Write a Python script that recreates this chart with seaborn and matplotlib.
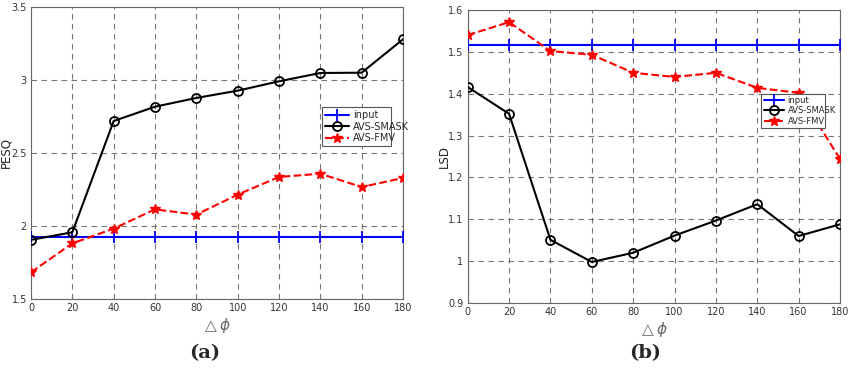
import matplotlib
matplotlib.use("Agg")
import matplotlib.pyplot as plt
import seaborn as sns
import pandas as pd
import numpy as np

angles = [0, 20, 40, 60, 80, 100, 120, 140, 160, 180]
pesq_input = [1.925] * 10
pesq_smask = [1.905, 1.957, 2.719, 2.817, 2.877, 2.927, 2.991, 3.048, 3.050, 3.279]
pesq_fmv = [1.683, 1.881, 1.982, 2.114, 2.078, 2.215, 2.336, 2.358, 2.267, 2.329]
lsd_input = [1.516] * 10
lsd_smask = [1.416, 1.352, 1.051, 0.998, 1.020, 1.061, 1.097, 1.136, 1.060, 1.088]
lsd_fmv = [1.540, 1.571, 1.502, 1.493, 1.450, 1.440, 1.450, 1.414, 1.402, 1.244]
series_names = ["input", "AVS-SMASK", "AVS-FMV"]
pesq_ticks = [1.5, 2, 2.5, 3, 3.5]
pesq_ticklabels = ["1.5", "2", "2.5", "3", "3.5"]
lsd_ticks = [0.9, 1.0, 1.1, 1.2, 1.3, 1.4, 1.5, 1.6]
lsd_ticklabels = ["0.9", "1", "1.1", "1.2", "1.3", "1.4", "1.5", "1.6"]

sns.set_style("white")
plt.rcParams['font.family'] = ['DejaVu Sans']

fig = plt.figure(figsize=(8.5, 3.68), dpi=100)
axA = fig.add_axes([31/850, 1-299/368, (403-31)/850, (299-7)/368])
axB = fig.add_axes([467.7/850, 1-303/368, (840-467.7)/850, (303-10)/368])

styles = {
    "input": dict(color="#0000ff", marker="+", linestyle="-", markersize=8, mew=1.3),
    "AVS-SMASK": dict(color="black", marker="o", linestyle="-", markersize=6.5, mfc="none", mew=1.3),
    "AVS-FMV": dict(color="#ff0000", marker="*", linestyle="--", markersize=7.5, mew=1.0),
}

def draw(ax, vals, ylab, ylim, ticks, ticklabels, legend_box, legend_fs, ylab_x):
    df = pd.DataFrame({"angle": angles * 3,
                       "value": vals[0] + vals[1] + vals[2],
                       "series": sum([[n] * len(angles) for n in series_names], [])})
    for name in series_names:
        st = styles[name]
        sub = df[df.series == name]
        sns.lineplot(data=sub, x="angle", y="value", ax=ax, color=st["color"],
                     marker=st["marker"], linestyle=st["linestyle"], markersize=st["markersize"],
                     markeredgewidth=st["mew"], markerfacecolor=st.get("mfc", st["color"]),
                     markeredgecolor=st["color"], linewidth=1.5, label=name, zorder=3)
    ax.set_xlim(0, 180)
    ax.set_ylim(*ylim)
    ax.set_xticks(angles)
    ax.set_xticklabels([str(a) for a in angles])
    ax.set_yticks(ticks)
    ax.set_yticklabels(ticklabels)
    ax.grid(True, linestyle=(0, (5, 4)), color="#555555", linewidth=0.8, alpha=0.8)
    ax.tick_params(direction="in", length=3, labelsize=7, colors="#333333", pad=3)
    for s in ax.spines.values():
        s.set_color("#666666")
        s.set_linewidth(0.8)
    ax.set_xlabel(r"$\triangle\phi$", fontsize=11, color="#666666", labelpad=2)
    ax.set_ylabel(ylab, fontsize=8.5, color="#222222")
    ax.yaxis.set_label_coords(ylab_x, 0.5)
    leg = ax.legend(loc="lower left", bbox_to_anchor=legend_box, mode="expand",
                    fontsize=legend_fs, frameon=True, fancybox=False, borderpad=0.3,
                    labelspacing=0.15, handlelength=2.5, handletextpad=0.4, borderaxespad=0)
    leg.get_frame().set_edgecolor("#555555")
    leg.get_frame().set_linewidth(0.8)
    leg.get_frame().set_alpha(1)

draw(axA, [pesq_input, pesq_smask, pesq_fmv], "PESQ", (1.5, 3.5), pesq_ticks, pesq_ticklabels,
     ((322-31)/372, (299-146)/292, (391-322)/372, 33/292), 7, -0.05)
draw(axB, [lsd_input, lsd_smask, lsd_fmv], "LSD", (0.9, 1.6), lsd_ticks, lsd_ticklabels,
     ((761-467.7)/372.3, (303-128)/293, (825-761)/372.3, 27/293), 6, -0.045)

fig.text(205/850, 1-353/368, "(a)", fontsize=14, fontweight="bold", family="DejaVu Serif",
         ha="center", va="center")
fig.text(645/850, 1-353/368, "(b)", fontsize=14, fontweight="bold", family="DejaVu Serif",
         ha="center", va="center")

fig.savefig("out.png", dpi=100)
